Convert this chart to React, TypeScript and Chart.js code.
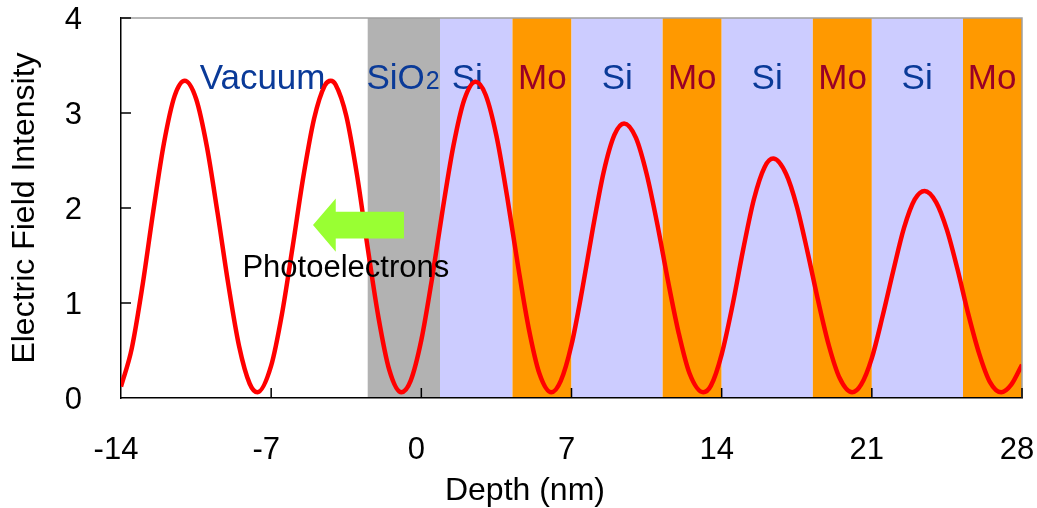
import React, { useEffect, useRef } from "react";
import { Chart, registerables } from "chart.js";

Chart.register(...registerables);

// ---- data ----
const depth = [
  -14, -13.5, -13, -12.5, -12, -11.5, -11.03, -10.5, -10, -9.5, -9, -8.5, -8, -7.64,
  -7, -6.5, -6, -5.5, -5, -4.5, -4.22, -4, -3.5, -3, -2.5, -2, -1.5, -0.93,
  -0.5, 0, 0.5, 1, 1.5, 2, 2.53, 3, 3.5, 4, 4.5, 5, 5.5, 6.06,
  6.5, 7, 7.5, 8, 8.5, 9, 9.45, 10, 10.5, 11, 11.5, 12, 12.5, 13.14,
  13.5, 14, 14.5, 15, 15.5, 16, 16.4, 17, 17.5, 18, 18.5, 19, 19.5, 20.08,
  20.5, 21, 21.5, 22, 22.5, 23, 23.46, 24, 24.5, 25, 25.5, 26, 26.5, 27.03,
  27.5, 28,
];
const intensity = [
  0.12, 0.52, 1.18, 1.96, 2.68, 3.18, 3.34, 3.15, 2.65, 1.95, 1.2, 0.55, 0.15, 0.06,
  0.34, 0.88, 1.59, 2.33, 2.94, 3.29, 3.34, 3.3, 2.97, 2.35, 1.58, 0.85, 0.3, 0.06,
  0.18, 0.61, 1.26, 1.99, 2.66, 3.14, 3.33, 3.19, 2.76, 2.12, 1.4, 0.74, 0.26, 0.06,
  0.18, 0.56, 1.14, 1.79, 2.38, 2.77, 2.89, 2.74, 2.36, 1.83, 1.23, 0.68, 0.26, 0.06,
  0.13, 0.46, 0.97, 1.56, 2.09, 2.43, 2.52, 2.36, 2.02, 1.54, 1.02, 0.55, 0.21, 0.06,
  0.14, 0.42, 0.86, 1.34, 1.79, 2.09, 2.18, 2.06, 1.77, 1.35, 0.88, 0.47, 0.17, 0.06,
  0.14, 0.35,
];

// layers (depth ranges in nm)
const layerNames = ["SiO2", "Si", "Mo", "Si", "Mo", "Si", "Mo", "Si", "Mo"];
const layerStart = [-2.5, 0.87, 4.25, 7.0, 11.25, 14.0, 18.25, 21.0, 25.25];
const layerEnd = [0.87, 4.25, 7.0, 11.25, 14.0, 18.25, 21.0, 25.25, 28];

// region labels
const labelTexts = ["Vacuum", "SiO2", "Si", "Mo", "Si", "Mo", "Si", "Mo", "Si", "Mo"];
const labelDepth = [-7.4, -0.85, 2.14, 5.64, 9.13, 12.63, 16.12, 19.64, 23.11, 26.61];
const labelLevel = 3.25;

// arrow annotation (data units)
const arrowDepth = [-5.05, -3.99, -0.81]; // tip, head base, tail
const arrowLevel = [1.82, 0.28, 0.14]; // centre, head half-height, shaft half-height
const photoText = "Photoelectrons";
const photoDepth = -3.52;
const photoLevel = 1.27;

const xTitle = "Depth (nm)";
const xTitleDepth = 4.83;
const yTitle = "Electric Field Intensity";

const xMin = -14, xMax = 28, xStep = 7;
const yMin = 0, yMax = 4, yStep = 1;

// ---- styles ----
const FONT = "'Liberation Sans', Arial, sans-serif";
const layerColor: Record<string, string> = {
  SiO2: "#b2b2b2",
  Si: "#ccccff",
  Mo: "#ff9900",
};
const BLUE = "#0a3a98";
const RED_TEXT = "#990026";

const decor = {
  id: "decor",
  beforeDraw(chart: any) {
    const { ctx, chartArea: a, scales } = chart;
    const x = scales.x;
    ctx.save();
    for (let i = 0; i < layerNames.length; i++) {
      const x0 = x.getPixelForValue(layerStart[i]);
      const x1 = x.getPixelForValue(layerEnd[i]);
      ctx.fillStyle = layerColor[layerNames[i]];
      ctx.fillRect(x0, a.top, x1 - x0, a.bottom - a.top);
    }
    ctx.restore();
  },
  beforeDatasetsDraw(chart: any) {
    const { ctx, scales } = chart;
    const x = scales.x, y = scales.y;
    ctx.save();
    ctx.textBaseline = "alphabetic";
    const py = y.getPixelForValue(labelLevel);
    for (let i = 0; i < labelTexts.length; i++) {
      const t = labelTexts[i];
      const px = x.getPixelForValue(labelDepth[i]);
      ctx.fillStyle = t === "Mo" ? RED_TEXT : BLUE;
      if (t === "SiO2") {
        ctx.font = `35px ${FONT}`;
        const w1 = ctx.measureText("SiO").width;
        ctx.font = `25px ${FONT}`;
        const w2 = ctx.measureText("2").width;
        const start = px - (w1 + w2 + 1) / 2;
        ctx.textAlign = "left";
        ctx.font = `35px ${FONT}`;
        ctx.fillText("SiO", start, py);
        ctx.font = `25px ${FONT}`;
        ctx.fillText("2", start + w1 + 1, py);
      } else {
        ctx.font = `35px ${FONT}`;
        ctx.textAlign = "center";
        ctx.fillText(t, px, py);
      }
    }
    ctx.restore();
  },
  afterDatasetsDraw(chart: any) {
    const { ctx, scales } = chart;
    const x = scales.x, y = scales.y;
    ctx.save();
    // arrow
    const tip = x.getPixelForValue(arrowDepth[0]);
    const base = x.getPixelForValue(arrowDepth[1]);
    const tail = x.getPixelForValue(arrowDepth[2]);
    const cy = y.getPixelForValue(arrowLevel[0]);
    const hh = y.getPixelForValue(arrowLevel[0] - arrowLevel[1]) - cy;
    const sh = y.getPixelForValue(arrowLevel[0] - arrowLevel[2]) - cy;
    ctx.fillStyle = "#99ff33";
    ctx.beginPath();
    ctx.moveTo(tip, cy);
    ctx.lineTo(base, cy - hh);
    ctx.lineTo(base, cy - sh);
    ctx.lineTo(tail, cy - sh);
    ctx.lineTo(tail, cy + sh);
    ctx.lineTo(base, cy + sh);
    ctx.lineTo(base, cy + hh);
    ctx.closePath();
    ctx.fill();
    // photoelectrons text
    ctx.fillStyle = "#000";
    ctx.font = `31px ${FONT}`;
    ctx.textAlign = "center";
    ctx.textBaseline = "alphabetic";
    ctx.fillText(photoText, x.getPixelForValue(photoDepth), y.getPixelForValue(photoLevel));
    ctx.restore();
  },
  afterDraw(chart: any) {
    const { ctx, chartArea: a, scales } = chart;
    const x = scales.x, y = scales.y;
    ctx.save();
    // top and right frame
    ctx.strokeStyle = "#a0a0a0";
    ctx.lineWidth = 1.5;
    ctx.beginPath();
    ctx.moveTo(a.left, a.top);
    ctx.lineTo(a.right, a.top);
    ctx.lineTo(a.right, a.bottom);
    ctx.stroke();
    // inner tick marks
    ctx.strokeStyle = "#000";
    ctx.lineWidth = 1.5;
    ctx.beginPath();
    for (let v = yMin + yStep; v <= yMax; v += yStep) {
      const py = y.getPixelForValue(v);
      ctx.moveTo(a.left, py);
      ctx.lineTo(a.left + 10, py);
    }
    for (let v = xMin + xStep; v <= xMax; v += xStep) {
      const px = x.getPixelForValue(v);
      ctx.moveTo(px, a.bottom);
      ctx.lineTo(px, a.bottom - 10);
    }
    ctx.stroke();
    // x axis title
    ctx.fillStyle = "#000";
    ctx.font = `32px ${FONT}`;
    ctx.textAlign = "center";
    ctx.textBaseline = "alphabetic";
    ctx.fillText(xTitle, x.getPixelForValue(xTitleDepth), a.bottom + 102);
    ctx.restore();
  },
};

export default function App() {
  const ref = useRef<HTMLCanvasElement>(null);
  useEffect(() => {
    if (!ref.current) return;
    const chart = new Chart(ref.current, {
      type: "line",
      data: {
        datasets: [
          {
            data: depth.map((d, i) => ({ x: d, y: intensity[i] })),
            borderColor: "#ff0000",
            borderWidth: 4.5,
            pointRadius: 0,
            fill: false,
            cubicInterpolationMode: "monotone",
            borderJoinStyle: "round",
          } as any,
        ],
      },
      options: {
        animation: false,
        responsive: true,
        maintainAspectRatio: false,
        layout: { padding: { top: 18, right: 15, left: 0, bottom: 0 } },
        plugins: { legend: { display: false }, tooltip: { enabled: false } },
        scales: {
          x: {
            type: "linear",
            min: xMin,
            max: xMax,
            grid: { display: false, drawTicks: false },
            border: { display: true, color: "#000", width: 1.5 },
            ticks: {
              stepSize: xStep,
              autoSkip: false,
              maxRotation: 0,
              padding: 34,
              labelOffset: -5,
              color: "#000",
              font: { family: FONT, size: 31 },
            },
            afterFit: (s: any) => {
              s.height = 110;
              s.paddingLeft = 0;
              s.paddingRight = 0;
            },
          },
          y: {
            type: "linear",
            min: yMin,
            max: yMax,
            grid: { display: false, drawTicks: false },
            border: { display: true, color: "#000", width: 1.5 },
            ticks: {
              stepSize: yStep,
              padding: 39,
              labelOffset: 2,
              color: "#000",
              font: { family: FONT, size: 31 },
            },
            title: {
              display: true,
              text: yTitle,
              color: "#000",
              font: { family: FONT, size: 32 },
              padding: { top: 6, bottom: 0 },
            },
            afterFit: (s: any) => {
              s.width = 121;
              s.paddingTop = 0;
              s.paddingBottom = 0;
            },
          },
        },
      } as any,
      plugins: [decor],
    });
    return () => chart.destroy();
  }, []);
  return (
    <div style={{ position: "absolute", left: 0, top: 0, width: 1037, height: 508 }}>
      <canvas ref={ref} />
    </div>
  );
}
